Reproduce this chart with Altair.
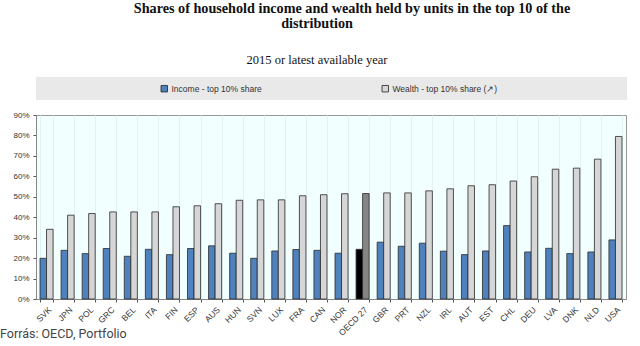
import altair as alt
import pandas as pd

countries = ["SVK", "JPN", "POL", "GRC", "BEL", "ITA", "FIN", "ESP", "AUS", "HUN",
             "SVN", "LUX", "FRA", "CAN", "NOR", "OECD 27", "GBR", "PRT", "NZL", "IRL",
             "AUT", "EST", "CHL", "DEU", "LVA", "DNK", "NLD", "USA"]
income = [19.9, 23.8, 22.2, 24.7, 20.9, 24.3, 21.7, 24.7, 26.0, 22.4,
          19.9, 23.5, 24.2, 23.8, 22.4, 24.3, 27.8, 25.8, 27.3, 23.4,
          21.7, 23.5, 35.9, 23.0, 24.8, 22.2, 23.0, 28.9]
wealth = [34.1, 41.0, 41.8, 42.6, 42.6, 42.6, 45.1, 45.6, 46.6, 48.3,
          48.5, 48.5, 50.5, 51.0, 51.5, 51.6, 51.9, 51.9, 52.9, 53.9,
          55.4, 55.9, 57.7, 59.8, 63.5, 64.0, 68.4, 79.5]

income_label = "Income - top 10% share"
wealth_label = "Wealth - top 10% share (\u2197)"
highlight = "OECD 27"

rows = []
for c, i, w in zip(countries, income, wealth):
    rows.append({"country": c, "series": "a_income", "value": i,
                 "key": "OECD income" if c == highlight else income_label})
    rows.append({"country": c, "series": "b_wealth", "value": w,
                 "key": "OECD wealth" if c == highlight else wealth_label})
df = pd.DataFrame(rows)

W, H = 590, 184

bars = alt.Chart(df).mark_bar(stroke="#2a2a2a", strokeWidth=0.8).encode(
    x=alt.X("country:N", sort=countries,
            scale=alt.Scale(paddingInner=0.38, paddingOuter=0.19),
            axis=alt.Axis(title=None, labelAngle=-45, labelFontSize=8.5,
                          labelFont="Liberation Sans", labelColor="#333",
                          tickBand="extent", tickSize=3, tickColor="#555",
                          domainColor="#888", grid=True, gridColor="#E2F2F2",
                          labelPadding=3)),
    xOffset=alt.XOffset("series:N", scale=alt.Scale(paddingInner=0, paddingOuter=0)),
    y=alt.Y("value:Q", scale=alt.Scale(domain=[0, 90], nice=False),
            axis=alt.Axis(title=None, values=list(range(0, 91, 10)),
                          labelExpr="datum.value + '%'", labelFontSize=8,
                          labelFont="Liberation Sans", labelColor="#333",
                          tickSize=3, tickColor="#555", domainColor="#888",
                          grid=False, labelPadding=4)),
    color=alt.Color("key:N",
                    scale=alt.Scale(domain=[income_label, wealth_label, "OECD income", "OECD wealth"],
                                    range=["#4F81BD", "#D6D6D6", "#000000", "#858585"]),
                    legend=alt.Legend(title=None, values=[income_label, wealth_label],
                                      orient="none", legendX=124, legendY=-31,
                                      direction="horizontal", columnPadding=118,
                                      symbolType="square", symbolSize=42,
                                      symbolStrokeColor="#222", symbolStrokeWidth=0.8,
                                      labelFont="Liberation Sans", labelFontSize=8.5,
                                      labelColor="#333", labelOffset=3)),
)

band = alt.Chart(pd.DataFrame({"a": [0]})).mark_rect(color="#E9E9E9").encode(
    x=alt.value(0), x2=alt.value(591), y=alt.value(-38), y2=alt.value(-15))

t1 = alt.Chart(pd.DataFrame({"t": ["Shares of household income and wealth held by units in the top 10 of the"]})).mark_text(
    font="Liberation Serif", fontWeight="bold", fontSize=14.2, color="#111", align="center", baseline="alphabetic"
).encode(text="t:N", x=alt.value(352 - 36), y=alt.value(13 - 115))

t2 = alt.Chart(pd.DataFrame({"t": ["distribution"]})).mark_text(
    font="Liberation Serif", fontWeight="bold", fontSize=14.2, color="#111", align="center", baseline="alphabetic"
).encode(text="t:N", x=alt.value(317 - 36), y=alt.value(28 - 115))

t3 = alt.Chart(pd.DataFrame({"t": ["2015 or latest available year"]})).mark_text(
    font="Liberation Serif", fontSize=12.5, color="#111", align="center", baseline="alphabetic"
).encode(text="t:N", x=alt.value(317 - 36), y=alt.value(64 - 115))

src = alt.Chart(pd.DataFrame({"t": ["Forr\u00e1s: OECD, Portfolio"]})).mark_text(
    font="Roboto", fontSize=12.5, color="#444", align="left", baseline="alphabetic"
).encode(text="t:N", x=alt.value(-36), y=alt.value(338 - 115))

chart = alt.layer(band, bars, t1, t2, t3, src).properties(
    width=W, height=H,
    autosize=alt.AutoSizeParams(type="none"),
    padding={"left": 36, "top": 115, "right": 14, "bottom": 47},
    background="white",
).configure_view(fill="#F2FFFF", stroke="#999", strokeWidth=1)

chart.save("out.html", embed_options={"renderer": "svg", "actions": False})
